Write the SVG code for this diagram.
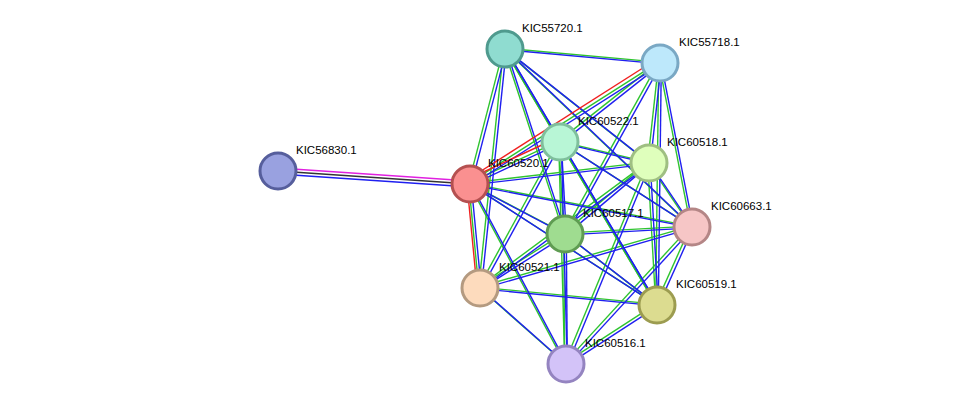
<svg xmlns="http://www.w3.org/2000/svg" width="975" height="410" viewBox="0 0 975 410">
<style>
.g line{stroke:#2fc42f;stroke-width:1.4}
.b line{stroke:#1f1ff0;stroke-width:1.4}
.r line{stroke:#f02020;stroke-width:1.4}
circle{stroke-width:3}
text{font-family:"Liberation Sans",Arial,sans-serif;font-size:11.5px;fill:#000}
</style>
<rect width="975" height="410" fill="#fff"/>
<defs>
<g id="E">
<line x1="505" y1="49" x2="660" y2="63"/><line x1="505" y1="49" x2="560" y2="142"/><line x1="505" y1="49" x2="649" y2="163"/><line x1="505" y1="49" x2="470" y2="184"/><line x1="505" y1="49" x2="565" y2="234"/><line x1="505" y1="49" x2="692" y2="227"/><line x1="505" y1="49" x2="657" y2="305"/><line x1="505" y1="49" x2="480" y2="288"/>
<line x1="660" y1="63" x2="560" y2="142"/><line x1="660" y1="63" x2="649" y2="163"/><line x1="660" y1="63" x2="470" y2="184"/><line x1="660" y1="63" x2="565" y2="234"/><line x1="660" y1="63" x2="692" y2="227"/><line x1="660" y1="63" x2="657" y2="305"/>
<line x1="560" y1="142" x2="649" y2="163"/><line x1="560" y1="142" x2="470" y2="184"/><line x1="560" y1="142" x2="565" y2="234"/><line x1="560" y1="142" x2="692" y2="227"/><line x1="560" y1="142" x2="657" y2="305"/><line x1="560" y1="142" x2="480" y2="288"/><line x1="560" y1="142" x2="566" y2="364"/>
<line x1="649" y1="163" x2="470" y2="184"/><line x1="649" y1="163" x2="565" y2="234"/><line x1="649" y1="163" x2="692" y2="227"/><line x1="649" y1="163" x2="657" y2="305"/><line x1="649" y1="163" x2="480" y2="288"/><line x1="649" y1="163" x2="566" y2="364"/>
<line x1="470" y1="184" x2="565" y2="234"/><line x1="470" y1="184" x2="692" y2="227"/><line x1="470" y1="184" x2="480" y2="288"/><line x1="470" y1="184" x2="657" y2="305"/><line x1="470" y1="184" x2="566" y2="364"/>
<line x1="692" y1="227" x2="565" y2="234"/><line x1="692" y1="227" x2="480" y2="288"/><line x1="692" y1="227" x2="657" y2="305"/><line x1="692" y1="227" x2="566" y2="364"/>
<line x1="565" y1="234" x2="480" y2="288"/><line x1="565" y1="234" x2="657" y2="305"/><line x1="565" y1="234" x2="566" y2="364"/>
<line x1="480" y1="288" x2="657" y2="305"/><line x1="480" y1="288" x2="566" y2="364"/>
<line x1="657" y1="305" x2="566" y2="364"/>
</g>
</defs>
<g id="connectors">
<g class="g" transform="translate(-1.3,-0.9)"><use href="#E" stroke="#2fc42f" stroke-width="1.4"/></g>
<g class="b" transform="translate(1.3,0.9)"><use href="#E" stroke="#1f1ff0" stroke-width="1.4"/></g>
<g class="r" fill="none" stroke-width="1.4">
<line x1="467" y1="180" x2="657" y2="59" stroke="#f02020"/>
<line x1="466" y1="180" x2="557" y2="138" stroke="#f02020"/>
<line x1="467" y1="184" x2="477" y2="288" stroke="#f02020"/>
</g>
<line x1="278" y1="168" x2="470" y2="181" stroke="#e020e0" stroke-width="1.4"/>
<line x1="278" y1="171" x2="470" y2="184" stroke="#333" stroke-width="1.4"/>
<line x1="278" y1="174" x2="470" y2="187" stroke="#1f1ff0" stroke-width="1.4"/>
</g>
<g id="KIC55720.1"><circle cx="505" cy="49" r="18" fill="#8fdcd0" stroke="#4f9a8e"/><text x="522" y="32">KIC55720.1</text></g>
<g id="KIC55718.1"><circle cx="660" cy="63" r="18" fill="#bde8fb" stroke="#7aa8c4"/><text x="679" y="46">KIC55718.1</text></g>
<g id="KIC60522.1"><circle cx="560" cy="142" r="18" fill="#b8f6d6" stroke="#7fbf9c"/><text x="578" y="125">KIC60522.1</text></g>
<g id="KIC60518.1"><circle cx="649" cy="163" r="18" fill="#dfffbc" stroke="#9fbf82"/><text x="667" y="146">KIC60518.1</text></g>
<g id="KIC56830.1"><circle cx="278" cy="171" r="18" fill="#99a1e0" stroke="#565e9c"/><text x="296" y="154">KIC56830.1</text></g>
<g id="KIC60520.1"><circle cx="470" cy="184" r="18" fill="#fa9090" stroke="#b45050"/><text x="488" y="167">KIC60520.1</text></g>
<g id="KIC60663.1"><circle cx="692" cy="227" r="18" fill="#f6c6c6" stroke="#b48686"/><text x="711" y="210">KIC60663.1</text></g>
<g id="KIC60517.1"><circle cx="565" cy="234" r="18" fill="#9fdc90" stroke="#5f9c52"/><text x="583" y="217">KIC60517.1</text></g>
<g id="KIC60521.1"><circle cx="480" cy="288" r="18" fill="#fddbbd" stroke="#b49a80"/><text x="499" y="271">KIC60521.1</text></g>
<g id="KIC60519.1"><circle cx="657" cy="305" r="18" fill="#dcdc90" stroke="#9c9c50"/><text x="676" y="288">KIC60519.1</text></g>
<g id="KIC60516.1"><circle cx="566" cy="364" r="18" fill="#d3c3f8" stroke="#9484c0"/><text x="585" y="347">KIC60516.1</text></g>
</svg>
